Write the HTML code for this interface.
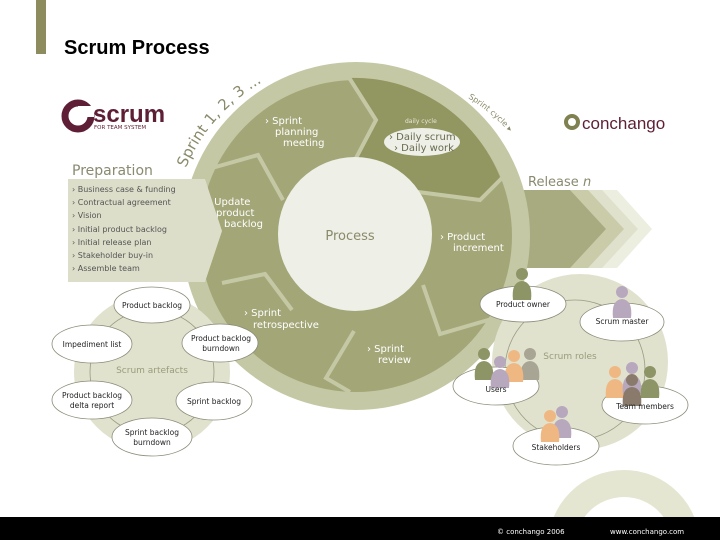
<!DOCTYPE html>
<html><head><meta charset="utf-8"><style>
body{margin:0;width:720px;height:540px;overflow:hidden;background:#fff}
svg{display:block}
text{font-family:"DejaVu Sans","Liberation Sans",sans-serif}
</style></head><body>
<svg width="720" height="540" viewBox="0 0 720 540" xmlns="http://www.w3.org/2000/svg">
<rect x="36" y="0" width="10" height="54" fill="#8c8c5e"/>
<text x="64" y="54" font-weight="bold" font-size="20" fill="#000" style="font-family:'Liberation Sans',sans-serif">Scrum Process</text>

<!-- bottom partial ring -->
<path d="M548,546 A76,76 0 0 1 700,546 L673,546 A49,49 0 0 0 575,546 Z" fill="#e4e6d2"/>

<!-- release arrow chevrons -->
<polygon points="560,190 617,190 652,229 617,268 560,268" fill="#eceee0"/>
<polygon points="545,190 602,190 638,229 602,268 545,268" fill="#dfe1cc"/>
<polygon points="530,190 588,190 624,229 588,268 530,268" fill="#c9cba9"/>
<polygon points="500,190 570,190 606,229 570,268 500,268" fill="#a8ab80"/>
<text x="528" y="186" font-size="13" fill="#8a8a70">Release <tspan font-style="italic">n</tspan></text>

<!-- outer light circle -->
<circle cx="356" cy="236" r="174" fill="#c5c8a4"/>
<circle cx="356" cy="236" r="156" fill="#a3a677"/>
<path d="M348,78 L376,120 L355,160 L418,192 L480,200 L500,178 A156,156 0 0 0 348,78 Z" fill="#929660"/>
<g fill="none" stroke="#c5c8a4" stroke-width="4" stroke-linejoin="miter">
<polyline points="205,170 258,155 283,200"/>
<polyline points="348,76 376,120 355,160"/>
<polyline points="418,192 480,200 505,175"/>
<polyline points="423,285 440,334 495,318"/>
<polyline points="354,331 326,378 350,392"/>
<polyline points="222,283 265,274 292,310"/>
</g>
<circle cx="355" cy="234" r="77" fill="#eeefe6"/>
<text x="350" y="240" font-size="13" fill="#8a8a6a" text-anchor="middle">Process</text>

<path id="arcS" d="M186,168 A178,178 0 0 1 270,78" fill="none"/>
<text font-size="15" fill="#8a8a6a"><textPath href="#arcS">Sprint 1, 2, 3 ... <tspan font-style="italic">n</tspan></textPath></text>
<path id="arcC" d="M468,98 A178,178 0 0 1 516,140" fill="none"/>
<text font-size="8" fill="#8a8a6a"><textPath href="#arcC">Sprint cycle ▸</textPath></text>

<g font-size="10" fill="#fff">
<text x="265" y="124">› Sprint</text><text x="275" y="135">planning</text><text x="283" y="146">meeting</text>
<text x="207" y="205">› Update</text><text x="216" y="216">product</text><text x="224" y="227">backlog</text>
<text x="440" y="240">› Product</text><text x="453" y="251">increment</text>
<text x="244" y="316">› Sprint</text><text x="253" y="328">retrospective</text>
<text x="367" y="352">› Sprint</text><text x="378" y="363">review</text>
</g>
<ellipse cx="422" cy="142" rx="38" ry="14" fill="#eeefe6"/>
<text x="405" y="123" font-size="6" fill="#e8e8d8">daily cycle</text>
<text x="389" y="140" font-size="10" fill="#6a6a50">› Daily scrum</text>
<text x="394" y="151" font-size="10" fill="#6a6a50">› Daily work</text>

<text x="72" y="175" font-size="14" fill="#8a8a70">Preparation</text>
<polygon points="68,179 205,179 222,231 205,282 68,282" fill="#dcdec9"/>
<g font-size="8" fill="#555">
<text x="72" y="192">› Business case &amp; funding</text>
<text x="72" y="205">› Contractual agreement</text>
<text x="72" y="218">› Vision</text>
<text x="72" y="232">› Initial product backlog</text>
<text x="72" y="245">› Initial release plan</text>
<text x="72" y="258">› Stakeholder buy-in</text>
<text x="72" y="271">› Assemble team</text>
</g>

<circle cx="78" cy="116" r="13" fill="none" stroke="#5e1e36" stroke-width="7"/>
<rect x="78" y="106" width="16" height="11" fill="#fff"/>
<text x="93" y="122" font-size="24" font-weight="bold" fill="#5e1e36" style="font-family:'Liberation Sans',sans-serif">scrum</text>
<text x="94" y="129" font-size="5.5" fill="#5e1e36">FOR TEAM SYSTEM</text>

<circle cx="572" cy="122" r="6" fill="none" stroke="#7f8150" stroke-width="4"/>
<text x="582" y="129" font-size="17" fill="#5e1e36" style="font-family:'Liberation Sans',sans-serif">conchango</text>

<circle cx="152" cy="372" r="78" fill="#e0e2ce"/>
<circle cx="152" cy="372" r="62" fill="none" stroke="#9a9a80" stroke-width="0.8"/>
<text x="152" y="373" font-size="9" fill="#9a9c78" text-anchor="middle">Scrum artefacts</text>
<g fill="#fff" stroke="#8a8a78" stroke-width="0.8">
<ellipse cx="152" cy="305" rx="38" ry="18"/>
<ellipse cx="92" cy="344" rx="40" ry="19"/>
<ellipse cx="220" cy="343" rx="38" ry="19"/>
<ellipse cx="92" cy="400" rx="40" ry="19"/>
<ellipse cx="214" cy="401" rx="38" ry="19"/>
<ellipse cx="152" cy="437" rx="40" ry="19"/>
</g>
<g font-size="7.5" fill="#222" text-anchor="middle">
<text x="152" y="308">Product backlog</text>
<text x="92" y="347">Impediment list</text>
<text x="221" y="341">Product backlog</text><text x="221" y="351">burndown</text>
<text x="92" y="398">Product backlog</text><text x="92" y="408">delta report</text>
<text x="214" y="404">Sprint backlog</text>
<text x="152" y="435">Sprint backlog</text><text x="152" y="445">burndown</text>
</g>

<circle cx="580" cy="362" r="88" fill="#e0e2ce"/>
<circle cx="575" cy="370" r="70" fill="none" stroke="#9a9a80" stroke-width="0.8"/>
<text x="570" y="359" font-size="9" fill="#9a9c78" text-anchor="middle">Scrum roles</text>
<g fill="#fff" stroke="#8a8a78" stroke-width="0.8">
<ellipse cx="523" cy="304" rx="43" ry="18"/>
<ellipse cx="622" cy="322" rx="42" ry="19"/>
<ellipse cx="496" cy="386" rx="43" ry="19"/>
<ellipse cx="645" cy="405" rx="43" ry="19"/>
<ellipse cx="556" cy="446" rx="43" ry="19"/>
</g>
<defs>
<g id="p"><circle cx="0" cy="-18" r="6"/><path d="M-9,8 Q-11,-10 0,-11 Q11,-10 9,8 Z"/></g>
</defs>
<use href="#p" x="522" y="292" fill="#8d9465"/>
<use href="#p" x="622" y="310" fill="#b7a8bd"/>
<use href="#p" x="530" y="372" fill="#a8a594"/>
<use href="#p" x="514" y="374" fill="#efb883"/>
<use href="#p" x="484" y="372" fill="#8d9465"/>
<use href="#p" x="500" y="380" fill="#b7a8bd"/>
<use href="#p" x="615" y="390" fill="#efb883"/>
<use href="#p" x="632" y="386" fill="#b7a8bd"/>
<use href="#p" x="650" y="390" fill="#8d9465"/>
<use href="#p" x="632" y="398" fill="#8a7a6c"/>
<use href="#p" x="562" y="430" fill="#b7a8bd"/>
<use href="#p" x="550" y="434" fill="#efb883"/>
<g font-size="7.5" fill="#222" text-anchor="middle">
<text x="523" y="307">Product owner</text>
<text x="622" y="324">Scrum master</text>
<text x="496" y="392">Users</text>
<text x="645" y="409">Team members</text>
<text x="556" y="450">Stakeholders</text>
</g>

<rect x="0" y="517" width="720" height="23" fill="#000"/>
<text x="497" y="534" font-size="7" fill="#fff">© conchango 2006</text>
<text x="610" y="534" font-size="7" fill="#fff">www.conchango.com</text>
</svg>
</body></html>
